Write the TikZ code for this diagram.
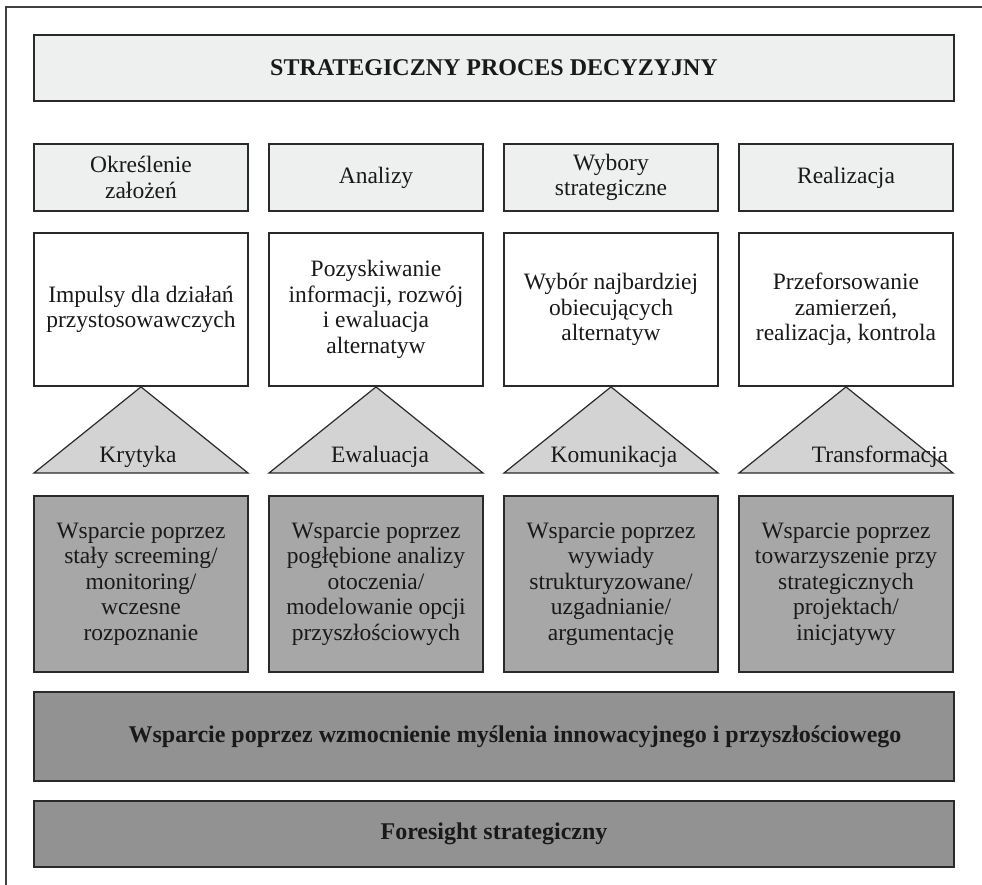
\documentclass[tikz,border=0pt]{standalone}
\usepackage{fontspec}
\setmainfont{Liberation Serif}
\definecolor{paleFill}{HTML}{EEEFEF}
\definecolor{triFill}{HTML}{D3D3D3}
\definecolor{midFill}{HTML}{A7A7A7}
\definecolor{barFill}{HTML}{929292}
\definecolor{edge}{HTML}{2A2A2A}
\begin{document}
\begin{tikzpicture}[x=1pt,y=-1pt,
  txt/.style={font=\fontsize{23.5}{25.5}\selectfont, align=center, text=black!90},
  boldtxt/.style={font=\fontsize{24}{28}\selectfont\bfseries, align=center, text=black!90},
  frame/.style={draw=edge, line width=1.8pt, inner sep=0pt},
  titlebox/.style={frame, fill=paleFill, minimum width=920pt, minimum height=66pt},
  phasebox/.style={frame, fill=paleFill, minimum width=214pt, minimum height=67pt},
  taskbox/.style={frame, fill=white, minimum width=214pt, minimum height=153pt},
  supportbox/.style={frame, fill=midFill, minimum width=214pt, minimum height=176pt},
  bar/.style={frame, fill=barFill, minimum width=920pt},
  tri/.style={draw=edge, line width=1.2pt, fill=triFill, line join=miter},
]
\useasboundingbox (0,0) rectangle (982,885);
% outer frame (top and left edges)
\draw[draw=black!75, line width=1.6pt] (6,885) -- (6,7) -- (982,7);

% title
\node[titlebox] (title) at (494,68) {};
\node[boldtxt] at (title) {STRATEGICZNY PROCES DECYZYJNY};

% column centres
\foreach \c/\x in {1/141,2/376,3/611,4/846}{
  \node[phasebox] (ph\c) at (\x,177.5) {};
  \node[taskbox] (task\c) at (\x,309.5) {};
  \node[supportbox] (sup\c) at (\x,584) {};
  \draw[tri] (\x-107,473) -- (task\c.south) -- (\x+107,473) -- cycle;
}

% phase headers
\node[txt] at (ph1) {Określenie\\założeń};
\node[txt] at (ph2) {Analizy};
\node[txt] at (ph3) {Wybory\\strategiczne};
\node[txt] at (ph4) {Realizacja};

% tasks
\node[txt] at (task1) {Impulsy dla działań\\przystosowawczych};
\node[txt] at (task2) {Pozyskiwanie\\informacji, rozwój\\i ewaluacja\\alternatyw};
\node[txt] at (task3) {Wybór najbardziej\\obiecujących\\alternatyw};
\node[txt] at (task4) {Przeforsowanie\\zamierzeń,\\realizacja, kontrola};

% triangle labels
\node[txt] (t1) at (138,457) {Krytyka};
\node[txt] (t2) at (380,457) {Ewaluacja};
\node[txt] (t3) at (614,457) {Komunikacja};
\node[txt] (t4) at (880,457) {Transformacja};

% support boxes
\node[txt] at (sup1) {Wsparcie poprzez\\stały screeming/\\monitoring/\\wczesne\\rozpoznanie};
\node[txt] at (sup2) {Wsparcie poprzez\\pogłębione analizy\\otoczenia/\\modelowanie opcji\\przyszłościowych};
\node[txt] at (sup3) {Wsparcie poprzez\\wywiady\\strukturyzowane/\\uzgadnianie/\\argumentację};
\node[txt] at (sup4) {Wsparcie poprzez\\towarzyszenie przy\\strategicznych\\projektach/\\inicjatywy};

% bottom bars
\node[bar, minimum height=89pt] (bar1) at (494,736.5) {};
\node[boldtxt] at (515,737) {Wsparcie poprzez wzmocnienie myślenia innowacyjnego i przyszłościowego};
\node[bar, minimum height=66pt] (bar2) at (494,834) {};
\node[boldtxt] at (bar2) {Foresight strategiczny};
\end{tikzpicture}
\end{document}
